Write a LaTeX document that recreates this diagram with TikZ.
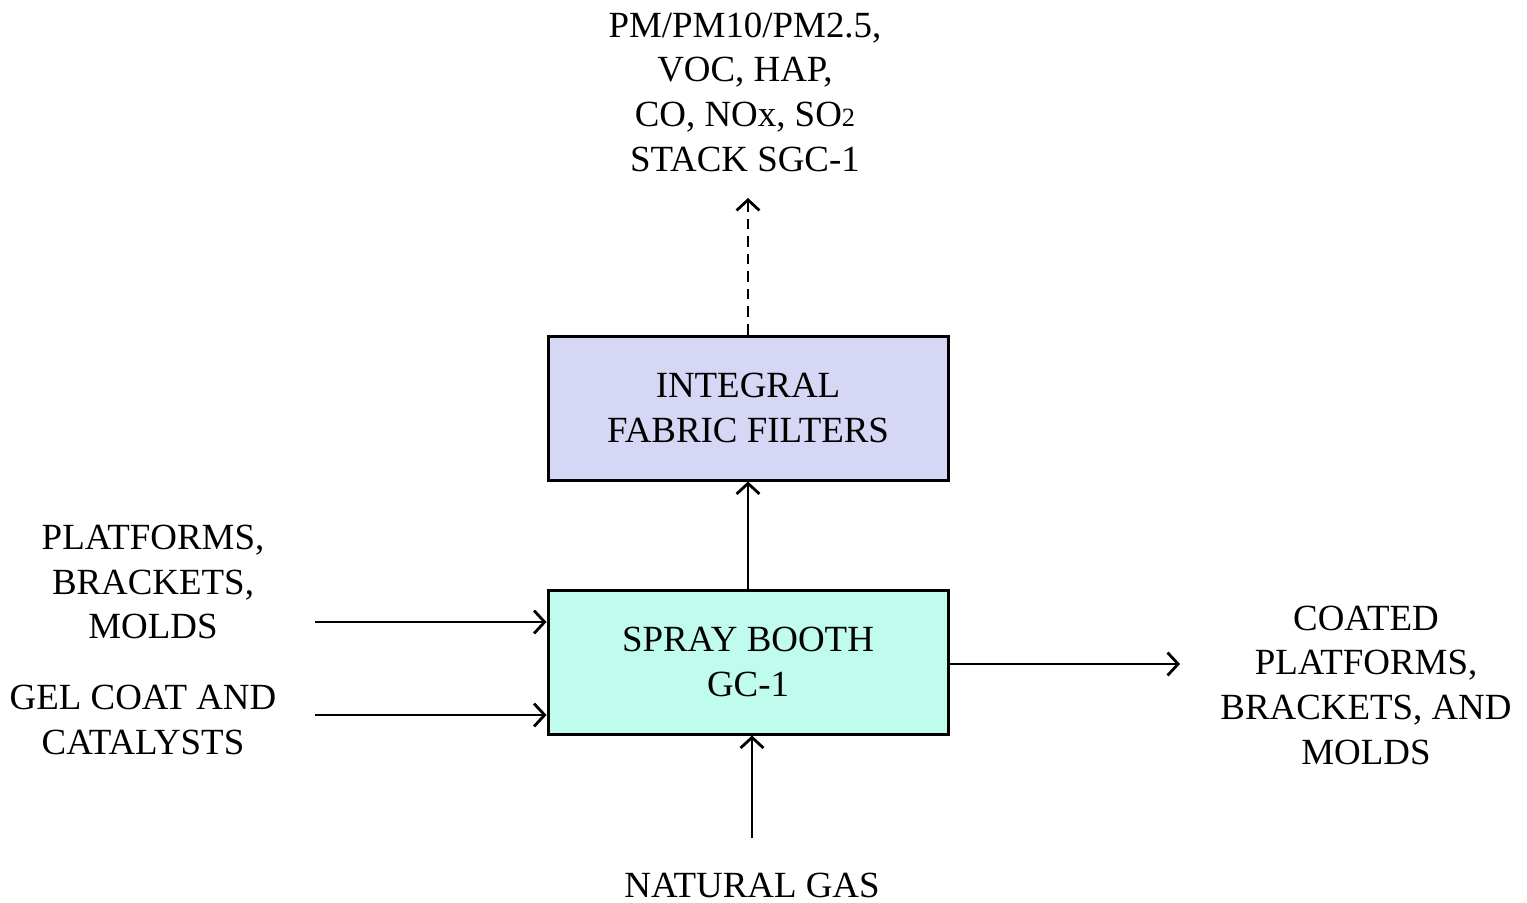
\documentclass[tikz,border=0pt]{standalone}
\usepackage{fontspec}
\setmainfont{Liberation Serif}
\usepackage{tikz}
\usetikzlibrary{arrows.meta}

\definecolor{filterfill}{RGB}{214,214,245}
\definecolor{boothfill}{RGB}{191,252,238}

\tikzset{
	unitbox/.style={draw,line width=0.85pt,minimum width=4cm,minimum height=1.44cm,align=center,font=\fontsize{10.5}{12.7}\selectfont},
	label/.style={align=center,font=\fontsize{10.5}{12.7}\selectfont,inner sep=0pt},
	flow/.style={line width=0.8pt,-{Straight Barb[length=3pt,width=6.5pt,line width=0.8pt]}}
}

\begin{document}
\begin{tikzpicture}
			\useasboundingbox (0,0) rectangle (15.27,9.02);
			\begin{scope}[every node/.style={unitbox}]
				\node[fill=filterfill] (filters) at (7.48,4.94) {INTEGRAL\\FABRIC FILTERS};
				\node[fill=boothfill] (booth) at (7.48,2.40) {SPRAY BOOTH\\GC-1};
			\end{scope}
			
			\begin{scope}[every node/.style={label}]
				\node (stack) at (7.45,8.10) {PM/PM10/PM2.5,\\VOC, HAP,\\CO, NOx, SO{\fontsize{7.5}{9}\selectfont 2}\\STACK SGC-1};
				\node (parts) at (1.53,3.20) {PLATFORMS,\\BRACKETS,\\MOLDS};
				\node (gelcoat) at (1.43,1.82) {GEL COAT AND\\CATALYSTS};
				\node (coated) at (13.66,2.17) {COATED\\PLATFORMS,\\BRACKETS, AND\\MOLDS};
				\node (gas) at (7.52,0.17) {NATURAL GAS};
			\end{scope}
			
			\coordinate (stacktip) at (7.48,7.04);
			\coordinate (partsin) at (3.15,2.80);
			\coordinate (gelin) at (3.15,1.87);
			\coordinate (coatedout) at (11.80,2.38);
			\coordinate (gasin) at (7.52,0.64);
			
			\begin{scope}
				\path[flow,dash pattern=on 3pt off 2pt] (filters.north) edge (stacktip);
				\path[flow] (booth.north) edge (filters.south);
				\path[flow] (partsin) edge (booth.west |- partsin);
				\path[flow] (gelin) edge (booth.west |- gelin);
				\path[flow] (booth.east |- coatedout) edge (coatedout);
				\path[flow] (gasin) edge (booth.south -| gasin);
			\end{scope}
		\end{tikzpicture}
\end{document}
